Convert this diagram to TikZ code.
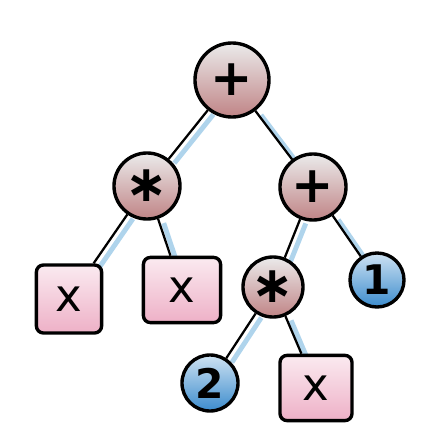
\documentclass[tikz,border=0pt]{standalone}
\usepackage{amsmath}
\usepackage{fontspec}
\setmainfont{DejaVu Sans}
\usetikzlibrary{positioning, backgrounds}
\definecolor{opfill}{RGB}{192,132,134}
\definecolor{varfill}{RGB}{232,150,180}
\definecolor{numfill}{RGB}{60,140,205}
\definecolor{shadowblue}{RGB}{175,212,236}
\tikzset{
    x=0.025cm, y=-0.025cm,
    op/.style = {circle, draw, line width=2.4pt, inner sep=0pt, top color=white!92!black, bottom color=opfill,
                 font=\fontsize{36}{36}\selectfont\bfseries},
    var/.style = {rectangle, rounded corners=5pt, draw, line width=2.4pt, inner sep=0pt,
                  top color=varfill!20, bottom color=varfill!75, font=\fontsize{32}{32}\selectfont},
    num/.style = {circle, draw, line width=2.4pt, inner sep=0pt, top color=numfill!25, bottom color=numfill,
                  font=\fontsize{29}{29}\selectfont\bfseries},
    branch/.style = {line width=1.6pt, preaction={draw=shadowblue, line width=3.5pt,
                     transform canvas={shift={(4pt,-3pt)}}}}
}

\begin{document}
\begin{tikzpicture}
    \useasboundingbox (0,0) rectangle (436,447);
    \node[op, minimum size=1.85cm] (root) at (232,80) {+};
    \node[op, minimum size=1.65cm] (mul) at (147,186) {∗};
    \node[op, minimum size=1.65cm] (add) at (313,187) {+};
    \node[var, minimum width=1.63cm, minimum height=1.7cm] (x1) at (69,299) {x};
    \node[var, minimum width=1.93cm, minimum height=1.63cm] (x2) at (182,290) {x};
    \node[op, minimum size=1.5cm] (mul2) at (273,287) {∗};
    \node[num, minimum size=1.35cm] (one) at (377,280) {1};
    \node[num, minimum size=1.4cm] (two) at (210,383) {2};
    \node[var, minimum width=1.8cm, minimum height=1.63cm] (x3) at (316,388) {x};
    \begin{scope}[on background layer]
        \draw[branch] (root) -- (mul);
        \draw[branch] (root) -- (add);
        \draw[branch] (mul) -- (x1);
        \draw[branch] (mul) -- (x2);
        \draw[branch] (add) -- (mul2);
        \draw[branch] (add) -- (one);
        \draw[branch] (mul2) -- (two);
        \draw[branch] (mul2) -- (x3);
    \end{scope}
\end{tikzpicture}
\end{document}
